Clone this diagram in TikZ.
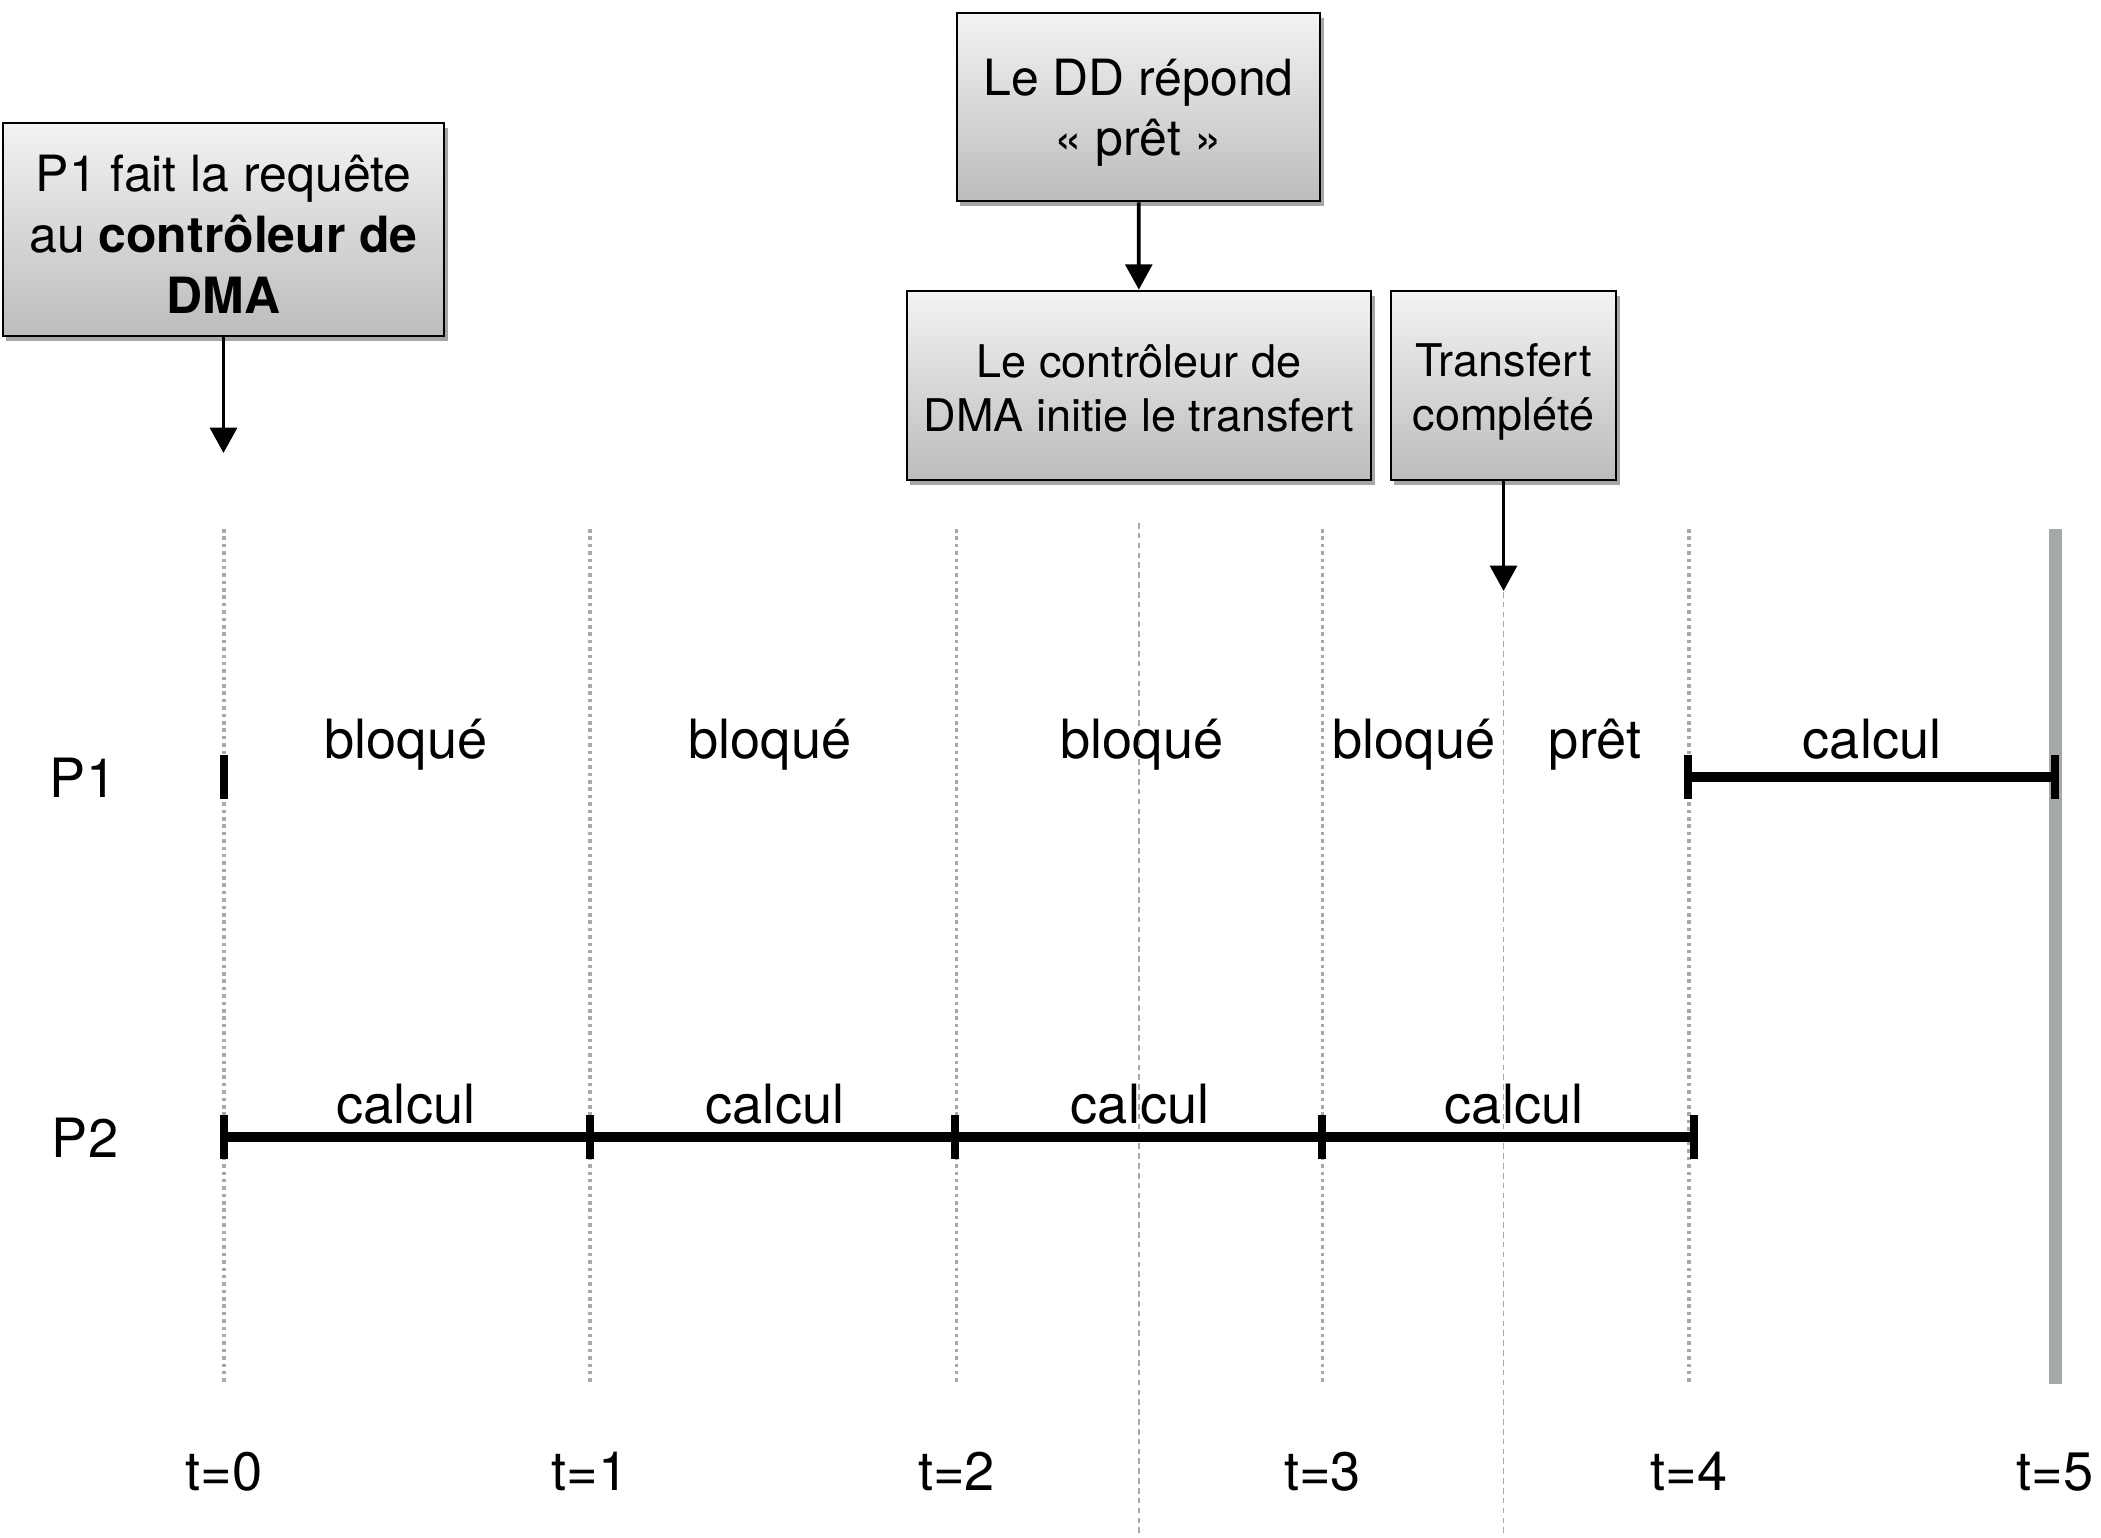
\documentclass[tikz,border=0pt]{standalone}
\usepackage{fontspec}
\setmainfont{TeX Gyre Heros}
\usepackage{tikz}
\usetikzlibrary{arrows.meta,shadows}
\definecolor{boxtop}{RGB}{243,243,243}
\definecolor{boxbot}{RGB}{188,188,188}
\definecolor{gris}{RGB}{168,168,168}
\definecolor{fin}{RGB}{165,168,168}

\begin{document}
\begin{tikzpicture}[x=0.01cm, y=-0.01cm,
    boite/.style = {draw, line width=0.75pt, top color=boxtop, bottom color=boxbot, align=center, inner sep=0pt,
        drop shadow={shadow xshift=1pt, shadow yshift=-1.3pt, opacity=0.35, fill=black}},
    txt/.style = {anchor=base, font=\fontsize{15.4}{18}\selectfont},
    grille/.style = {draw=gris, line width=1pt, dash pattern=on 1pt off 1.1pt},
    demi/.style = {draw=gris, line width=0.5pt, dash pattern=on 1.6pt off 1.2pt},
    barre/.style = {line width=2.8pt},
    cran/.style = {line width=2.1pt},
    fleche/.style = {-{Triangle[width=7.6pt,length=7.2pt]}, line width=1.1pt}]
    \useasboundingbox (0,0) rectangle (2101,1537);

    \foreach \i in {0,...,4}
        \draw[grille] ({224+366.2*\i},529) -- ({224+366.2*\i},1384);
    \foreach \x in {1139,1503.5}
        \draw[demi] (\x,523) -- (\x,1537);
    \draw[fin, line width=3.7pt] (2055,529) -- (2055,1384);

    \foreach \i in {0,...,5}
        \node[txt] (t\i) at ({224+366.2*\i},1490) {t=\i};

    \node[txt] (P1) at (83,797) {P1};
    \node[txt] (P2) at (85,1157) {P2};

    \draw[barre] (1688,777) -- (2055,777);
    \foreach \x in {224,1688,2055}
        \draw[cran] (\x,755) -- (\x,799);
    \draw[barre] (224,1137) -- (1694,1137);
    \foreach \x in {224,590,955,1322,1694}
        \draw[cran] (\x,1115) -- (\x,1159);

    \foreach \x/\s [count=\k] in {406/bloqué, 770/bloqué, 1142/bloqué, 1414/bloqué, 1595/prêt, 1872/calcul}
        \node[txt] (e\k) at (\x,758) {\s};
    \foreach \x [count=\k] in {406,775,1140,1514}
        \node[txt] (c\k) at (\x,1123) {calcul};

    \node[boite, minimum width=4.41cm, minimum height=2.13cm, font=\fontsize{14.2}{17.4}\selectfont] (R) at (223.5,229.5)
        {\rule{0pt}{13pt}P1 fait la requête\\au \textbf{contrôleur de}\\\textbf{DMA}};
    \node[boite, minimum width=3.63cm, minimum height=1.88cm, text depth=-1.5pt, font=\fontsize{14.2}{17}\selectfont] (D) at (1138.5,107)
        {Le DD répond\\« prêt »};
    \node[boite, minimum width=4.64cm, minimum height=1.89cm, font=\fontsize{12.8}{15.4}\selectfont] (C) at (1139,385.5)
        {\rule{0pt}{11.2pt}Le contrôleur de\\DMA initie le transfert};
    \node[boite, minimum width=2.25cm, minimum height=1.89cm, font=\fontsize{12.8}{15.4}\selectfont] (T) at (1503.5,385.5)
        {\rule{0pt}{13.1pt}Transfert\\complété};

    \coordinate (a0) at (223.5,453);
    \coordinate (a1) at (1503.5,591);
    \draw[fleche] (R) -- (a0);
    \draw[fleche] (D) -- (C);
    \draw[fleche] (T) -- (a1);
\end{tikzpicture}
\end{document}
